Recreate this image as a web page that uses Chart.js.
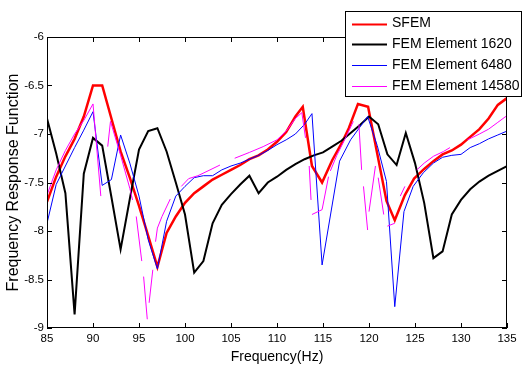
<!DOCTYPE html>
<html>
<head>
<meta charset="utf-8">
<script src="https://cdn.jsdelivr.net/npm/chart.js@4"></script>
<style>
	body { margin: 0; background: #fff; }
	#frfchart { display: block; }
</style>
</head>
<body>
<canvas id="frfchart" width="523" height="366"></canvas>
<script>
// values, frequency in Hz
var sfemHz = [85, 86, 87, 88, 89, 90, 91, 92, 93, 94, 95, 96, 97, 98, 99, 100, 101, 102, 103, 104, 105, 106, 107, 108, 109, 110, 111, 112, 112.8, 113.8, 114.9, 116, 117, 117.8, 118.8, 119.9, 121.9, 122.8, 123.9, 124.9, 126, 127, 128, 129, 130, 131, 132, 133, 134, 135];
var sfemFrf = [-7.70, -7.44, -7.23, -7.05, -6.82, -6.50, -6.50, -6.84, -7.18, -7.45, -7.74, -8.05, -8.37, -8.02, -7.85, -7.71, -7.61, -7.54, -7.47, -7.42, -7.37, -7.32, -7.26, -7.22, -7.16, -7.08, -6.98, -6.82, -6.72, -7.33, -7.50, -7.27, -7.10, -6.94, -6.69, -6.72, -7.69, -7.89, -7.63, -7.46, -7.36, -7.28, -7.21, -7.17, -7.11, -7.03, -6.95, -6.84, -6.70, -6.63];

var fem1620Hz = [85, 86, 87, 88, 89, 90, 91, 92, 93, 94, 95, 96, 97, 98, 99, 100, 101, 102, 103, 104, 105, 106, 107, 108, 109, 110, 111, 112, 113, 114, 115, 116, 117, 118, 119, 120, 121, 122, 123, 124, 125, 126, 127, 128, 129, 130, 131, 132, 133, 134, 135];
var fem1620Frf = [-6.84, -7.20, -7.61, -8.86, -7.41, -7.04, -7.12, -7.65, -8.19, -7.67, -7.16, -6.97, -6.94, -7.18, -7.50, -7.83, -8.43, -8.31, -7.92, -7.73, -7.62, -7.52, -7.43, -7.61, -7.50, -7.44, -7.37, -7.31, -7.26, -7.22, -7.19, -7.13, -7.07, -6.99, -6.91, -6.82, -6.90, -7.21, -7.32, -6.99, -7.30, -7.71, -8.28, -8.21, -7.83, -7.68, -7.57, -7.49, -7.43, -7.38, -7.33];

var fem6480Hz = [85, 86, 87, 88, 89, 90, 91, 92, 93, 94, 95, 96, 97, 98, 99, 100, 101, 102, 103, 104, 105, 106, 107, 108, 109, 110, 111, 112, 113, 113.8, 114.9, 116.8, 118, 119.85, 120.9, 121.9, 122.8, 123.8, 124.8, 125.9, 127, 128, 129, 130, 131, 132, 133, 134, 135];
var fem6480Frf = [-7.92, -7.52, -7.33, -7.14, -6.96, -6.77, -7.53, -7.47, -7.01, -7.30, -7.64, -8.09, -8.39, -7.90, -7.64, -7.54, -7.45, -7.43, -7.43, -7.37, -7.33, -7.30, -7.26, -7.22, -7.17, -7.11, -7.06, -7.00, -6.90, -6.79, -8.35, -7.28, -7.06, -6.82, -7.12, -7.49, -8.78, -7.80, -7.54, -7.40, -7.30, -7.24, -7.22, -7.21, -7.14, -7.10, -7.05, -7.01, -6.97];

// the finest mesh is drawn in broken pieces, null marks a break
var fem14580Hz = [85, 86, 87, 88, 89, 90, 90.85, 91.2, 91.6, 91.9, 93, 94, 94.3, 94.5, 94.7, 95.3, 95.4, 95.5, 95.9, 96, 96.1, 96.5, 96.6, 96.8, 97, 97.5, 98.4, 99, 99.6, 100.4, 101.4, 102.5, 103.8, 104.5, 105.4, 107, 108.5, 110, 111, 112, 112.7, 113.1, 113.3, 113.5, 113.7, 113.75, 113.8, 114.9, 115.6, 115.7, 115.8, 116.5, 117.4, 118.3, 118.6, 118.9, 119.2, 119.3, 119.4, 119.85, 119.9, 120, 120.7, 120.85, 121, 121.6, 121.8, 122, 122.8, 123.1, 123.4, 123.9, 124.5, 125.2, 126, 127, 128.1, 128.8, 129.7, 130.7, 132, 133, 134, 135];
var fem14580Frf = [-7.63, -7.37, -7.17, -7.00, -6.86, -6.69, -7.64, null, -7.13, -6.87, -7.22, -7.56, -7.68, null, -7.85, -8.31, null, -8.47, -8.91, null, -8.74, -8.40, null, -8.11, -7.97, -7.85, -7.67, null, -7.54, -7.46, -7.43, -7.38, -7.32, null, -7.25, -7.19, -7.13, -7.06, -6.97, -6.84, -6.78, -7.04, null, -7.33, -7.68, null, -7.83, -7.78, -7.44, null, -7.38, -7.22, -7.05, -6.87, null, -6.90, -7.37, null, -7.54, -7.99, null, -7.80, -7.33, null, -7.45, -7.83, null, -7.95, -7.92, null, -7.64, -7.54, null, -7.37, -7.30, -7.23, -7.18, -7.14, null, -7.06, -7.00, -6.95, -6.88, -6.81];

var legendLabels = ['SFEM', 'FEM Element 1620', 'FEM Element 6480', 'FEM Element 14580'];

var axisFont = 'Arial, "Liberation Sans", Helvetica, sans-serif';

function toPoints(hz, frf) {
	var pts = [];
	for (let i = 0; i < hz.length; i++) {
		pts.push({ x: hz[i], y: frf[i] });
	}
	return pts;
}

// matlab style box with inward ticks on all four sides
var boxAxes = {
	id: 'boxAxes',
	afterDatasetsDraw: function (chart) {
		var ctx = chart.ctx;
		var area = chart.chartArea;
		var xs = chart.scales.x;
		var ys = chart.scales.y;
		var len = 5;
		ctx.save();
		ctx.strokeStyle = '#000';
		ctx.lineWidth = 1;
		ctx.strokeRect(area.left + 0.5, area.top + 0.5, area.right - area.left - 1, area.bottom - area.top - 1);
		ctx.beginPath();
		xs.ticks.forEach(function (t) {
			var px = Math.round(xs.getPixelForValue(t.value)) + 0.5;
			ctx.moveTo(px, area.bottom);
			ctx.lineTo(px, area.bottom - len);
			ctx.moveTo(px, area.top);
			ctx.lineTo(px, area.top + len);
		});
		ys.ticks.forEach(function (t) {
			var py = Math.round(ys.getPixelForValue(t.value)) + 0.5;
			ctx.moveTo(area.left, py);
			ctx.lineTo(area.left + len, py);
			ctx.moveTo(area.right, py);
			ctx.lineTo(area.right - len, py);
		});
		ctx.stroke();
		ctx.restore();
	}
};

// legend box sits over the top right corner of the axes
var boxLegend = {
	id: 'boxLegend',
	afterDraw: function (chart) {
		var ctx = chart.ctx;
		var bx = 345, by = 11, bw = 177, bh = 86;
		var rowH = 20.9;
		ctx.save();
		ctx.fillStyle = '#fff';
		ctx.fillRect(bx, by, bw, bh);
		ctx.strokeStyle = '#000';
		ctx.lineWidth = 1;
		ctx.strokeRect(bx + 0.5, by + 0.5, bw - 1, bh - 1);
		ctx.font = '14px ' + axisFont;
		ctx.textBaseline = 'middle';
		chart.data.datasets.forEach(function (ds, i) {
			var cy = by + 12.5 + i * rowH;
			ctx.beginPath();
			ctx.strokeStyle = ds.borderColor;
			ctx.lineWidth = ds.borderWidth > 1.5 ? 2 : 1;
			ctx.moveTo(352, Math.round(cy) + 0.5);
			ctx.lineTo(387, Math.round(cy) + 0.5);
			ctx.stroke();
			ctx.fillStyle = '#000';
			ctx.fillText(ds.label, 392, cy);
		});
		ctx.restore();
	}
};

var ctx = document.getElementById('frfchart').getContext('2d');
var frfChart = new Chart(ctx, {
	type: 'line',
	data: {
		datasets: [{
			label: legendLabels[0],
			data: toPoints(sfemHz, sfemFrf),
			borderColor: '#ff0000',
			borderWidth: 2.5,
			order: 4
		}, {
			label: legendLabels[1],
			data: toPoints(fem1620Hz, fem1620Frf),
			borderColor: '#000000',
			borderWidth: 2,
			order: 3
		}, {
			label: legendLabels[2],
			data: toPoints(fem6480Hz, fem6480Frf),
			borderColor: '#0000ff',
			borderWidth: 1,
			order: 2
		}, {
			label: legendLabels[3],
			data: toPoints(fem14580Hz, fem14580Frf),
			borderColor: '#ff00ff',
			borderWidth: 1,
			order: 1
		}]
	},
	options: {
		responsive: false,
		animation: false,
		devicePixelRatio: 1,
		spanGaps: false,
		elements: {
			point: { radius: 0 },
			line: { tension: 0, fill: false }
		},
		layout: {
			padding: { top: 37, right: 16, left: 0, bottom: 0 }
		},
		plugins: {
			legend: { display: false },
			tooltip: { enabled: false }
		},
		scales: {
			x: {
				type: 'linear',
				min: 85,
				max: 135,
				grid: { display: false, drawTicks: false },
				border: { display: false },
				ticks: {
					stepSize: 5,
					padding: 4,
					color: '#000',
					maxRotation: 0,
					font: { family: axisFont, size: 11.5 }
				},
				title: {
					display: true,
					text: 'Frequency(Hz)',
					color: '#000',
					padding: { top: 0, bottom: 0 },
					font: { family: axisFont, size: 14 }
				},
				afterFit: function (scale) {
					scale.height = 38;
				}
			},
			y: {
				min: -9,
				max: -6,
				grid: { display: false, drawTicks: false },
				border: { display: false },
				ticks: {
					stepSize: 0.5,
					padding: 3,
					color: '#000',
					font: { family: axisFont, size: 11.5 },
					callback: function (value) {
						return String(value);
					}
				},
				title: {
					display: true,
					text: 'Frequency Response Function',
					color: '#000',
					padding: { top: 4, bottom: 0 },
					font: { family: axisFont, size: 16 }
				},
				afterFit: function (scale) {
					scale.width = 47;
				}
			}
		}
	},
	plugins: [boxAxes, boxLegend]
});
</script>
</body>
</html>
